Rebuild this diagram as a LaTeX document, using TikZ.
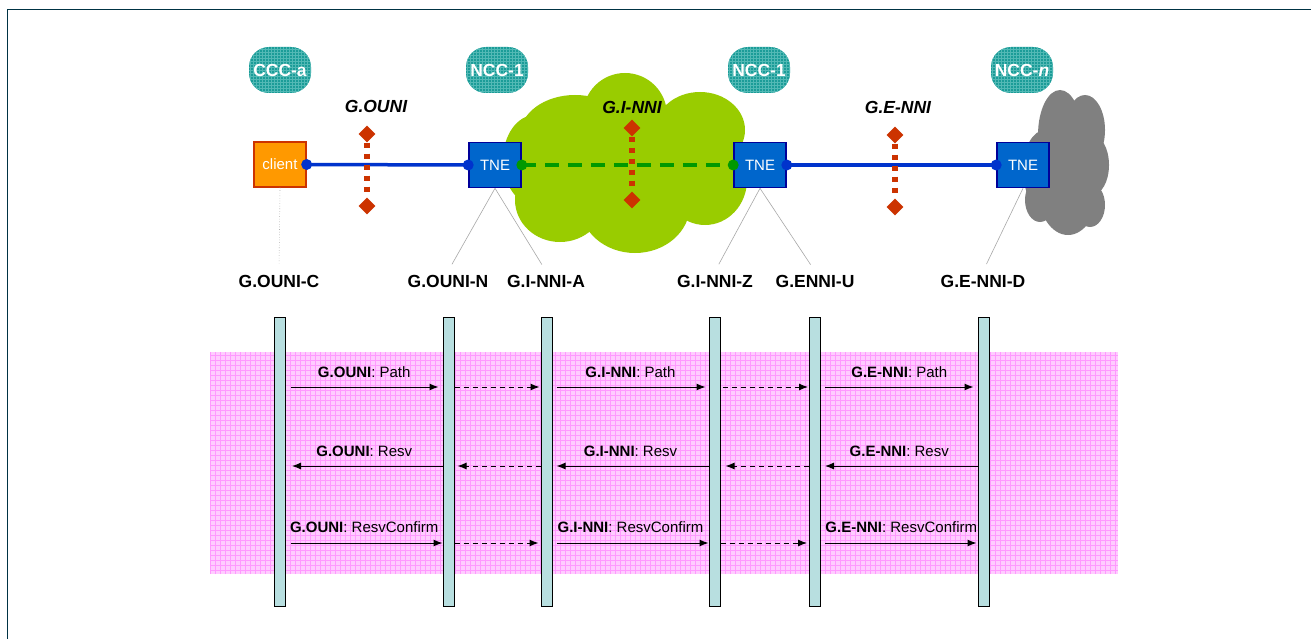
\documentclass[tikz,border=0pt]{standalone}
\usepackage{fontspec}
\setmainfont{Liberation Sans}
\usetikzlibrary{shapes.geometric,arrows.meta}

\definecolor{framec}{HTML}{003344}
\definecolor{tealc}{HTML}{1B9C98}
\definecolor{tealgrid}{HTML}{52B9B5}
\definecolor{orangec}{HTML}{FF9900}
\definecolor{orangeb}{HTML}{CC3300}
\definecolor{tneblue}{HTML}{0066CC}
\definecolor{tneedge}{HTML}{000099}
\definecolor{linkblue}{HTML}{0033CC}
\definecolor{linkgreen}{HTML}{009900}
\definecolor{cloudgreen}{HTML}{99CC00}
\definecolor{cloudgray}{HTML}{808080}
\definecolor{markc}{HTML}{CC3300}
\definecolor{pinkbg}{HTML}{FFCCFF}
\definecolor{pinkline}{HTML}{FF99FF}
\definecolor{barc}{HTML}{B8DFE0}
\definecolor{leaderc}{HTML}{A8A8A8}

\tikzset{
  blob/.style={rounded corners=20pt, minimum width=62pt, minimum height=46pt,
    inner sep=0pt, fill=tealc, text=white,
    font=\bfseries\fontsize{17.5}{20}\selectfont,
    path picture={\draw[tealgrid, line width=0.5pt, step=3pt]
      (path picture bounding box.south west) grid (path picture bounding box.north east);}},
  tnebox/.style={draw=tneedge, line width=1.6pt, fill=tneblue, text=white,
    minimum width=52pt, minimum height=45pt, inner sep=0pt,
    font=\fontsize{15}{18}\selectfont},
  clientbox/.style={draw=orangeb, line width=1.3pt, fill=orangec, text=white,
    minimum width=52pt, minimum height=45pt, inner sep=0pt,
    font=\fontsize{15}{18}\selectfont},
  ifmark/.style={diamond, fill=markc, minimum size=17pt, inner sep=0pt},
  ifline/.style={markc, line width=6pt, dash pattern=on 5pt off 6pt},
  iflabel/.style={font=\bfseries\itshape\fontsize{17.5}{20}\selectfont},
  toplabel/.style={font=\bfseries\fontsize{17.5}{20}\selectfont},
  leaderline/.style={leaderc, line width=0.6pt, shorten >=8pt},
  bluelink/.style={linkblue, line width=3.5pt},
  greenlink/.style={linkgreen, line width=4pt, dash pattern=on 14pt off 9pt},
  lifeline/.style={draw=black, line width=1pt, fill=barc,
    minimum width=11pt, minimum height=289pt, inner sep=0pt},
  msg/.style={black, line width=1pt, -{Latex[length=9pt,width=7pt]}},
  fwd/.style={msg, dash pattern=on 5pt off 4pt},
  msglabel/.style={font=\fontsize{15}{18}\selectfont, midway, yshift=15pt},
}

\begin{document}
\begin{tikzpicture}[x=1pt,y=-1pt]
\useasboundingbox (0,0) rectangle (1311,639);
\fill[white] (0,0) rectangle (1311,639);

% page frame
\draw[framec, line width=1.5pt] (7.5,639) -- (7.5,9.5) -- (1311,9.5);

% ---------------- network view ----------------
% control components
\node[blob] (ccc)  at (280,70) {CCC-a};
\node[blob] (ncca) at (497,70) {NCC-1};
\node[blob] (nccb) at (759,70) {NCC-1};
\node[blob] (nccn) at (1022,70) {NCC-\textit{n}};

% domain clouds, each lobe filled on its own
\foreach \cx/\cy/\rx/\ry in {575/135/55/40, 625/115/42/42, 700/130/45/38,
    705/180/42/45, 635/205/55/48, 560/200/45/42, 535/160/32/45, 630/165/90/60}
  \fill[cloudgreen] (\cx,\cy) ellipse ({\rx pt} and {\ry pt});
\foreach \cx/\cy/\rx/\ry in {1060/135/22/45, 1085/130/20/35, 1092/165/17/30,
    1045/170/22/40, 1068/190/30/45, 1040/200/15/22, 1090/205/15/22, 1070/160/30/40}
  \fill[cloudgray] (\cx,\cy) ellipse ({\rx pt} and {\ry pt});

% interface names
\node[iflabel] (lou) at (376,106) {G.OUNI};
\node[iflabel] (lin) at (632,107) {G.I-NNI};
\node[iflabel] (len) at (898,107) {G.E-NNI};

% interface markers
\node[ifmark] (ouA) at (367,134) {};
\node[ifmark] (ouB) at (367,206) {};
\node[ifmark] (inA) at (632,128) {};
\node[ifmark] (inB) at (632,200) {};
\node[ifmark] (enA) at (895,135) {};
\node[ifmark] (enB) at (895,207) {};

% network elements
\node[clientbox] (client) at (280,164.5) {client};
\node[tnebox] (tne1) at (495,165) {TNE};
\node[tnebox] (tne2) at (760,165) {TNE};
\node[tnebox] (tne3) at (1023,165) {TNE};

% links
\draw[bluelink] (client.east) -- (tne1.west);
\draw[greenlink] (tne1.east) -- (tne2.west);
\draw[bluelink] (tne2.east) -- (tne3.west);
\fill[linkblue] (client.east) circle (5.5pt) (tne1.west) circle (5.5pt)
                (tne2.east) circle (5.5pt) (tne3.west) circle (5.5pt);
\fill[linkgreen] (tne1.east) circle (5.5pt) (tne2.west) circle (5.5pt);

\draw[ifline] (ouA) -- (ouB);
\draw[ifline] (inA) -- (inB);
\draw[ifline] (enA) -- (enB);

% interface end-point labels
\node[toplabel] (lC)  at (279,281) {G.OUNI-C};
\node[toplabel] (lN)  at (448,281) {G.OUNI-N};
\node[toplabel] (lA)  at (546,281) {G.I-NNI-A};
\node[toplabel] (lZ)  at (715,281) {G.I-NNI-Z};
\node[toplabel] (lU)  at (815,281) {G.ENNI-U};
\node[toplabel] (lD)  at (983,281) {G.E-NNI-D};

\draw[leaderline, dotted] (client.south) -- (lC.north);
\draw[leaderline] (tne1.south) -- (lN.north);
\draw[leaderline] (tne1.south) -- (lA.north);
\draw[leaderline] (tne2.south) -- (lZ.north);
\draw[leaderline] (tne2.south) -- (lU.north);
\draw[leaderline] (tne3.south) -- (lD.north);

% ---------------- signalling view ----------------
\fill[pinkbg] (210,352) rectangle (1118,574);
\draw[pinkline, line width=0.6pt, step=5pt] (210,352) grid (1118,574);

\node[lifeline] (L1) at (280,461.5) {};
\node[lifeline] (L2) at (448.5,461.5) {};
\node[lifeline] (L3) at (546.5,461.5) {};
\node[lifeline] (L4) at (714.5,461.5) {};
\node[lifeline] (L5) at (815,461.5) {};
\node[lifeline] (L6) at (983.5,461.5) {};

\coordinate (r1) at (0,387);
\coordinate (r2) at (0,466);
\coordinate (r3) at (0,543);

% Path
\draw[msg, shorten <=5pt, shorten >=4pt] (L1.east |- r1) -- node[msglabel] {\textbf{G.OUNI}: Path} (L2.west |- r1);
\draw[fwd, shorten >=1pt] (L2.east |- r1) -- (L3.west |- r1);
\draw[msg, shorten <=4pt, shorten >=3pt] (L3.east |- r1) -- node[msglabel] {\textbf{G.I-NNI}: Path} (L4.west |- r1);
\draw[fwd, shorten <=2pt, shorten >=1pt] (L4.east |- r1) -- (L5.west |- r1);
\draw[msg, shorten <=4pt, shorten >=4pt] (L5.east |- r1) -- node[msglabel] {\textbf{G.E-NNI}: Path} (L6.west |- r1);

% Resv
\draw[msg, shorten >=6pt] (L2.west |- r2) -- node[msglabel] {\textbf{G.OUNI}: Resv} (L1.east |- r2);
\draw[fwd, shorten >=3pt] (L3.west |- r2) -- (L2.east |- r2);
\draw[msg, shorten >=4pt] (L4.west |- r2) -- node[msglabel] {\textbf{G.I-NNI}: Resv} (L3.east |- r2);
\draw[fwd, shorten >=5pt] (L5.west |- r2) -- (L4.east |- r2);
\draw[msg, shorten >=4pt] (L6.west |- r2) -- node[msglabel] {\textbf{G.E-NNI}: Resv} (L5.east |- r2);

% ResvConfirm
\draw[msg, shorten <=5pt] (L1.east |- r3) -- node[msglabel, yshift=1pt] {\textbf{G.OUNI}: ResvConfirm} (L2.west |- r3);
\draw[fwd, shorten >=2pt] (L2.east |- r3) -- (L3.west |- r3);
\draw[msg, shorten <=4pt] (L3.east |- r3) -- node[msglabel, yshift=1pt] {\textbf{G.I-NNI}: ResvConfirm} (L4.west |- r3);
\draw[fwd, shorten >=2pt] (L4.east |- r3) -- (L5.west |- r3);
\draw[msg, shorten <=4pt, shorten >=1pt] (L5.east |- r3) -- node[msglabel, yshift=1pt, xshift=2pt] {\textbf{G.E-NNI}: ResvConfirm} (L6.west |- r3);

\end{tikzpicture}
\end{document}
